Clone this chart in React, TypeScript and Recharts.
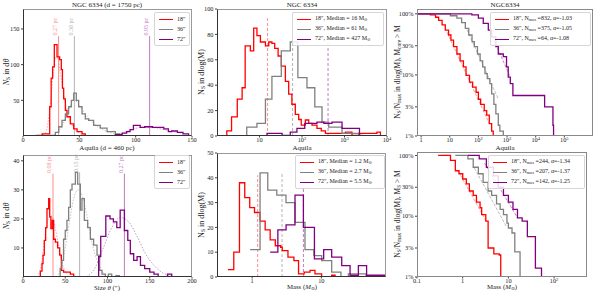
import React from 'react';
import { ComposedChart, Line, XAxis, YAxis, ReferenceLine } from 'recharts';

const FONT = '"Liberation Serif", "DejaVu Serif", serif';
const RED = '#ff0000';
const GRAY = '#808080';
const PURPLE = '#800080';
const RED_L = '#ff8c8c';
const GRAY_L = '#b4b4b4';
const PURPLE_L = '#c27ac2';

// ---- NGC 6334 size histograms (arcsec) : [bin start, count]
const ngcSize18 = [[10, 0], [12, 1], [17, 3], [23.7, 41], [25, 81], [26.3, 97], [27.8, 128], [30.2, 111], [32.5, 107], [34, 93], [35, 67], [36.1, 52], [37.6, 36], [39, 27], [42, 17], [45, 10], [48, 6], [52.4, 3], [55.3, 0]];
const ngcSize36 = [[20, 0], [22, 1], [28.7, 5], [31.7, 13], [34.6, 22], [37.6, 31], [40.5, 41], [42.9, 50], [45, 60], [47.3, 50], [49.4, 41], [52.4, 31], [55.3, 24], [58.3, 22], [62.7, 15], [68.6, 11], [74.6, 6], [82, 3], [86, 0]];
const ngcSize72 = [[76, 0], [82, 2], [88, 4], [92, 6], [95, 9], [98, 15], [104, 12], [108, 13], [115, 12], [121, 12], [125, 10], [129, 6], [132, 7], [137, 5], [142, 3], [147, 0]];
const ngcSizeFit18 = [[15, 0], [20, 5], [24, 40], [27, 90], [29, 110], [31, 108], [33, 90], [36, 60], [40, 30], [45, 12], [50, 4], [55, 1]];
const ngcSizeFit36 = [[28, 2], [35, 15], [40, 35], [45, 50], [48, 48], [52, 38], [58, 25], [65, 15], [75, 6], [85, 2]];
const ngcSizeFit72 = [[85, 2], [95, 8], [105, 12], [115, 12], [125, 9], [140, 4]];
const ngcSizeMedians = [31.6, 45.6, 112.4];
const ngcSizeMedianTops = [140, 140, 140];
const ngcSizeMedianLabels = ['0.27 pc', '0.38 pc', '0.95 pc'];

// ---- NGC 6334 mass histograms (Msun)
const ngcMass18 = [[1.2, 0], [1.7, 4], [2.2, 15], [3, 29], [3.9, 38], [4.6, 71], [6.1, 67], [7.3, 85], [8.7, 79], [10.5, 74], [13.8, 71], [16.5, 74], [19.6, 73], [22.8, 69], [27.4, 63], [32.6, 55], [40.6, 43], [48.6, 33], [57.8, 25], [69.6, 17], [83.6, 13], [96, 8.5], [120, 12.6], [144, 10], [172, 8.5], [225, 6], [284, 4], [356, 2], [1050, 3], [1500, 0.5], [2150, 2], [4400, 2], [5800, 3], [7000, 0]];
const ngcMass36 = [[5, 0], [5.01, 7], [8.7, 10], [13.8, 29], [19.6, 47], [32.6, 67], [53, 74], [80, 46], [131, 38], [200, 23], [296, 11], [425, 7], [875, 2], [1500, 2], [2150, 0.5], [2600, 0]];
const ngcMass72 = [[15, 0], [15.01, 2], [34, 0.5], [53, 3], [76, 6], [116, 10], [225, 11], [327, 10], [506, 11], [875, 6], [2250, 0.5], [2300, 0]];
const ngcMassMedians = [15.5, 60, 410];
const ngcMassMedianTops = [93, 93, 73];

// ---- NGC 6334 cumulative mass fraction
const ngcCum18 = [[0.7, 1], [1.6, 1], [2.1, 0.96], [3.2, 0.88], [4.1, 0.78], [5.4, 0.66], [7, 0.54], [9.1, 0.45], [11, 0.37], [13.6, 0.29], [17.8, 0.22], [23, 0.17], [30, 0.135], [37, 0.098], [49, 0.076], [63, 0.063], [83, 0.052], [100, 0.04], [120, 0.033], [160, 0.026], [195, 0.022], [240, 0.016], [290, 0.012], [330, 0.01]];
const ngcCum36 = [[0.7, 1], [4.6, 1], [10.5, 0.93], [17.8, 0.85], [26, 0.72], [35, 0.58], [46, 0.45], [60, 0.35], [72, 0.29], [93, 0.22], [115, 0.17], [141, 0.135], [170, 0.105], [204, 0.087], [251, 0.072], [290, 0.049], [347, 0.033], [407, 0.023], [495, 0.015], [560, 0.012], [740, 0.01]];
const ngcCum72 = [[0.7, 1], [40, 1], [59, 0.96], [100, 0.85], [148, 0.7], [222, 0.54], [290, 0.42], [407, 0.29], [495, 0.22], [740, 0.2], [960, 0.135], [1100, 0.092], [1300, 0.072], [1600, 0.046], [17800, 0.046], [20500, 0.03], [40000, 0.015], [42000, 0.01]];
const ngcCumFit18 = [[8, 0.5], [240, 0.016]];
const ngcCumFit36 = [[40, 0.55], [500, 0.04]];
const ngcCumFit72 = [[260, 0.51], [1300, 0.092]];

// ---- Aquila size histograms (arcsec)
const aqSize18 = [[18, 0], [20.5, 2], [22.5, 4.6], [23.7, 7.5], [25.2, 12.6], [26.8, 17], [28.4, 23.5], [30.4, 27], [31.6, 20.7], [33, 16.7], [34.7, 19.5], [36.3, 13], [38.3, 12], [41, 10], [43.4, 7.5], [45.4, 2.3], [48, 1.7], [56, 1], [60, 0]];
const aqSize36 = [[42, 0], [44, 3], [46, 5.7], [48, 13], [50, 16], [52, 19.5], [54, 24], [56, 30], [58, 32], [62, 36], [64.7, 32], [67.9, 23], [69.8, 27], [72.6, 19.5], [76.5, 17], [79.7, 13], [83.6, 11], [87.6, 7.5], [90.7, 2.3], [93.5, 1], [97.4, 0], [101, 1], [105, 0], [110, 0.5], [114, 0]];
const aqSize72 = [[88, 0], [89.5, 7], [92, 14], [98, 21], [103, 20], [107, 19], [111, 17], [115, 23], [120, 16], [124, 12.6], [127, 8], [131, 5.7], [135, 7], [139, 4], [144, 2.9], [150, 1.7], [155, 1], [160, 0], [171, 1], [176, 0]];
const aqSizeFit18 = [[18, 0], [22, 5], [26, 14], [30, 20], [34, 21], [38, 17], [42, 11], [46, 5], [50, 2], [55, 0]];
const aqSizeFit36 = [[40, 0], [45, 3], [50, 10], [55, 19], [60, 27], [65, 30], [70, 28], [75, 22], [80, 14], [85, 8], [90, 4], [95, 1.5], [100, 0.5]];
const aqSizeFit72 = [[75, 0], [85, 3], [95, 10], [105, 17], [115, 20.5], [125, 19], [135, 14], [145, 8], [155, 4], [165, 1.5], [175, 0.5]];
const aqSizeMedians = [35.5, 67, 120];
const aqSizeMedianTops = [35.6, 36, 35.6];
const aqSizeMedianLabels = ['0.08 pc', '0.15 pc', '0.27 pc'];

// ---- Aquila mass histograms
const aqMass18 = [[0.445, 3], [0.542, 10], [0.655, 38], [0.781, 32], [0.922, 28], [1.08, 26], [1.3, 22.5], [1.54, 19], [1.82, 15], [2.16, 12.6], [2.58, 12], [2.72, 10.6], [3.29, 8], [4.01, 6.6], [4.68, 1.3], [5.65, 2], [6.86, 2.7], [8.09, 1.3], [10.1, 0], [14.1, 0.7], [15.8, 0]];
const aqMass36 = [[0.935, 11], [1.3, 42], [1.68, 35], [2.27, 33], [3.08, 30], [4.16, 22], [5.8, 11], [7.78, 8.6], [10.1, 6.6], [14.1, 2], [19.2, 0], [24.6, 1.3], [42.4, 1.3], [44.2, 0]];
const aqMass72 = [[1.82, 10], [2.35, 19], [3.09, 21], [4.16, 33], [5.5, 20], [7.94, 7.3], [10.8, 11], [14.1, 8], [19.7, 4.6], [26, 0.7], [34.3, 4.6], [45.1, 0.7], [86, 0.7]];
const aqMassMedians = [1.2, 2.7, 5.5];
const aqMassMedianTops = [41, 41.5, 36];

// ---- Aquila cumulative mass fraction
const aqCum18 = [[0.29, 1], [0.54, 0.83], [0.69, 0.56], [0.83, 0.5], [1.0, 0.41], [1.2, 0.34], [1.4, 0.26], [1.7, 0.22], [2.0, 0.17], [2.4, 0.138], [2.6, 0.106], [3.2, 0.083], [3.6, 0.03], [4.8, 0.024], [6.3, 0.023], [6.8, 0.01]];
const aqCum36 = [[0.69, 1], [1.3, 0.88], [1.7, 0.64], [2.2, 0.5], [2.8, 0.36], [3.6, 0.26], [4.3, 0.22], [5.5, 0.16], [6.6, 0.13], [7.8, 0.106], [9.3, 0.077], [10, 0.064], [12, 0.053], [13.8, 0.026], [18, 0.01]];
const aqCum72 = [[1.3, 1], [2.3, 0.88], [3.3, 0.64], [4.7, 0.46], [6, 0.3], [7.8, 0.22], [10, 0.17], [12.6, 0.13], [15.8, 0.094], [20, 0.083], [26, 0.046], [39, 0.014], [53, 0.01]];
const aqCumFit18 = [[0.8, 0.55], [3.3, 0.082]];
const aqCumFit36 = [[1.8, 0.62], [9, 0.068]];
const aqCumFit72 = [[3, 0.75], [16, 0.093]];

const COLORS = [RED, GRAY, PURPLE];
const LIGHT = [RED_L, GRAY_L, PURPLE_L];

const toPts = (arr: number[][]) => arr.map(([x, y]) => ({ x, y }));

type Series = { pts: number[][]; color: string; kind: 'step' | 'curve' | 'line'; dash?: string; width?: number };
type Median = { x: number; top: number; color: string; label?: string; dash?: string };

const Y_W = 24;
const X_H = 14;
const R_M = 10;
const T_M = 6;

function PowTick(props: any) {
  const { x, y, payload } = props;
  const v = payload.value as number;
  const e = Math.round(Math.log10(v));
  const common: any = { x, y: y + 4.5, textAnchor: 'middle', fontSize: 6.3, fill: '#222', fontFamily: FONT };
  if (e === -1) return <text {...common}>0.1</text>;
  if (e === 0) return <text {...common}>1</text>;
  if (e === 1) return <text {...common}>10</text>;
  return (
    <text {...common}>
      10<tspan dy={-2.5} fontSize={4.5}>{e}</tspan>
    </text>
  );
}

const medianLabel = (text: string, color: string) => (props: any) => {
  const vb = props.viewBox || {};
  const x = (vb.x ?? 0) - 1.5;
  const y = (vb.y ?? 0) - 0.5;
  return (
    <text x={x} y={y} transform={`rotate(-90 ${x} ${y})`} fontSize={6} fill={color} fontFamily={FONT}>
      {text}
    </text>
  );
};

function Panel(p: {
  left: number; top: number; w: number; h: number;
  xDomain: [number, number]; yDomain: [number, number];
  xLog?: boolean; yLog?: boolean;
  xTicks: number[]; yTicks: number[];
  yPct?: boolean;
  series: Series[]; medians: Median[];
  frame?: string;
}) {
  const tickStyle = { fontSize: 6.3, fill: '#222', fontFamily: FONT };
  return (
    <>
      <div style={{ position: 'absolute', left: p.left - Y_W, top: p.top - T_M }}>
        <ComposedChart width={p.w + Y_W + R_M} height={p.h + X_H + T_M} margin={{ top: T_M, right: R_M, bottom: 0, left: 0 }}>
          <XAxis
            dataKey="x"
            type="number"
            scale={p.xLog ? 'log' : 'linear'}
            domain={p.xDomain}
            allowDataOverflow
            ticks={p.xTicks}
            interval={0}
            height={X_H}
            axisLine={false}
            tickSize={1.5}
            tickMargin={0}
            tickLine={{ stroke: '#444' }}
            tick={p.xLog ? <PowTick /> : tickStyle}
          />
          <YAxis
            type="number"
            scale={p.yLog ? 'log' : 'linear'}
            domain={p.yDomain}
            allowDataOverflow
            ticks={p.yTicks}
            interval={0}
            width={Y_W}
            axisLine={false}
            tickSize={2}
            tickMargin={1.5}
            tickLine={{ stroke: '#444' }}
            tick={tickStyle}
            tickFormatter={(v: number) => (p.yPct ? `${Math.round(v * 100)}%` : `${v}`)}
          />
          {p.medians.map((m, i) => (
            <ReferenceLine
              key={'m' + i}
              segment={[{ x: m.x, y: p.yLog ? p.yDomain[0] : 0 }, { x: m.x, y: m.top }]}
              stroke={m.color}
              strokeWidth={1}
              strokeDasharray={m.dash}
              ifOverflow="visible"
              label={m.label ? medianLabel(m.label, m.color) : undefined}
            />
          ))}
          {p.series.map((s, i) => (
            <Line
              key={'s' + i}
              data={toPts(s.pts)}
              dataKey="y"
              type={s.kind === 'step' ? 'stepAfter' : s.kind === 'curve' ? 'monotone' : 'linear'}
              stroke={s.color}
              strokeWidth={s.width ?? 1.3}
              strokeDasharray={s.dash}
              dot={false}
              activeDot={false}
              isAnimationActive={false}
            />
          ))}
        </ComposedChart>
      </div>
      <div
        style={{
          position: 'absolute', left: p.left, top: p.top, width: p.w, height: p.h, boxSizing: 'border-box',
          borderTop: `1px solid ${p.frame ?? '#999'}`, borderRight: `1px solid ${p.frame ?? '#999'}`,
          borderLeft: `1px solid ${p.frame ?? '#333'}`, borderBottom: `1px solid ${p.frame ?? '#333'}`,
          pointerEvents: 'none',
        }}
      />
    </>
  );
}

function Txt({ x, y, size = 7, children }: { x: number; y: number; size?: number; children: React.ReactNode }) {
  return (
    <div style={{ position: 'absolute', left: x, top: y, transform: 'translate(-50%, -50%)', fontSize: size, lineHeight: 1, whiteSpace: 'nowrap', color: '#222', fontFamily: FONT }}>
      {children}
    </div>
  );
}

function VTxt({ x, y, size = 8, children }: { x: number; y: number; size?: number; children: React.ReactNode }) {
  return (
    <div style={{ position: 'absolute', left: x, top: y, transform: 'translate(-50%, -50%) rotate(-90deg)', fontSize: size, lineHeight: 1, whiteSpace: 'nowrap', color: '#222', fontFamily: FONT }}>
      {children}
    </div>
  );
}

const Sub = ({ children }: { children: React.ReactNode }) => (
  <span style={{ fontSize: '0.7em', verticalAlign: '-0.25em' }}>{children}</span>
);

function LegendBox({ left, top, width, items }: { left: number; top: number; width: number; items: { color: string; label: React.ReactNode }[] }) {
  return (
    <div style={{ position: 'absolute', left, top, width, boxSizing: 'border-box', border: '1px solid #d6d6d6', borderRadius: 2, background: 'rgba(255,255,255,0.85)', padding: '1px 2px', fontFamily: FONT, fontSize: 6, color: '#222' }}>
      {items.map((it, i) => (
        <div key={i} style={{ display: 'flex', alignItems: 'center', height: 10 }}>
          <span style={{ display: 'inline-block', width: 14, borderTop: `1.5px solid ${it.color}`, marginLeft: 2, marginRight: 4 }} />
          <span style={{ whiteSpace: 'nowrap' }}>{it.label}</span>
        </div>
      ))}
    </div>
  );
}

const mk = (arrs: number[][][], kind: Series['kind'], light: boolean, dash?: string, width?: number): Series[] =>
  arrs.map((pts, i) => ({ pts, color: light ? LIGHT[i] : COLORS[i], kind, dash, width }));

const mkMed = (xs: number[], tops: number[], labels?: string[], dash?: string): Median[] =>
  xs.map((x, i) => ({ x, top: tops[i], color: LIGHT[i], label: labels ? labels[i] : undefined, dash }));

const ANG = '\u2033';

export default function App() {
  const top = 9, topH = 127;
  return (
    <div style={{ position: 'absolute', left: 0, top: 0, width: 598, height: 291, background: '#fff', overflow: 'hidden', fontFamily: FONT }}>
      {/* Top-left: NGC 6334 sizes */}
      <Panel
        left={23} top={top} w={169} h={topH}
        xDomain={[0, 150]} yDomain={[0, 178]}
        xTicks={[0, 50, 100, 150]} yTicks={[50, 100, 150]}
        series={[...mk([ngcSizeFit18, ngcSizeFit36, ngcSizeFit72], 'curve', true, '1.5 1.5', 0.8), ...mk([ngcSize18, ngcSize36, ngcSize72], 'step', false)]}
        medians={mkMed(ngcSizeMedians, ngcSizeMedianTops, ngcSizeMedianLabels)}
      />
      {/* Top-middle: NGC 6334 mass */}
      <Panel
        left={217} top={top} w={170} h={topH}
        xDomain={[1, 10000]} yDomain={[0, 100]} xLog
        xTicks={[10, 100, 1000, 10000]} yTicks={[0, 20, 40, 60, 80, 100]}
        series={mk([ngcMass18, ngcMass36, ngcMass72], 'step', false)}
        medians={mkMed(ngcMassMedians, ngcMassMedianTops, undefined, '3 2')}
      />
      {/* Top-right: NGC 6334 cumulative */}
      <Panel
        left={417} top={top} w={176} h={topH}
        xDomain={[0.72, 1000000]} yDomain={[0.01, 1.2]} xLog yLog yPct
        xTicks={[1, 10, 100, 1000, 10000, 100000]} yTicks={[0.01, 0.03, 0.1, 0.3, 1]}
        series={[...mk([ngcCumFit18, ngcCumFit36, ngcCumFit72], 'line', true, '3 1.5', 0.9), ...mk([ngcCum18, ngcCum36, ngcCum72], 'step', false)]}
        medians={[]}
        frame="#888"
      />
      {/* Bottom-left: Aquila sizes */}
      <Panel
        left={23} top={155} w={169} h={122}
        xDomain={[0, 200]} yDomain={[0, 42]}
        xTicks={[0, 50, 100, 150, 200]} yTicks={[10, 20, 30, 40]}
        series={[...mk([aqSizeFit18, aqSizeFit36, aqSizeFit72], 'curve', true, '1.5 1.5', 0.8), ...mk([aqSize18, aqSize36, aqSize72], 'step', false)]}
        medians={mkMed(aqSizeMedians, aqSizeMedianTops, aqSizeMedianLabels)}
      />
      {/* Bottom-middle: Aquila mass */}
      <Panel
        left={217} top={153} w={169} h={124}
        xDomain={[0.31, 86]} yDomain={[0, 50]} xLog
        xTicks={[1, 10]} yTicks={[0, 10, 20, 30, 40, 50]}
        series={mk([aqMass18, aqMass36, aqMass72], 'step', false)}
        medians={mkMed(aqMassMedians, aqMassMedianTops, undefined, '3 2')}
      />
      {/* Bottom-right: Aquila cumulative */}
      <Panel
        left={417} top={152} w={170} h={125}
        xDomain={[0.1, 525]} yDomain={[0.01, 1.14]} xLog yLog yPct
        xTicks={[0.1, 1, 10, 100]} yTicks={[0.01, 0.03, 0.1, 0.3, 1]}
        series={[...mk([aqCumFit18, aqCumFit36, aqCumFit72], 'line', true, '3 1.5', 0.9), ...mk([aqCum18, aqCum36, aqCum72], 'step', false)]}
        medians={[]}
        frame="#888"
      />

      {/* titles */}
      <Txt x={107} y={4.5}>NGC 6334 (d = 1750 pc)</Txt>
      <Txt x={302} y={4.5}>NGC 6334</Txt>
      <Txt x={505} y={4.5}>NGC6334</Txt>
      <Txt x={107} y={147.5}>Aquila (d = 460 pc)</Txt>
      <Txt x={302} y={147.5}>Aquila</Txt>
      <Txt x={505} y={147.5}>Aquila</Txt>

      {/* x labels */}
      <Txt x={107} y={287.6} size={6.8}>Size <i>θ</i> (″)</Txt>
      <Txt x={302} y={287.6} size={6.8}>Mass (<i>M</i><Sub>⊙</Sub>)</Txt>
      <Txt x={502} y={287.6} size={6.8}>Mass (<i>M</i><Sub>⊙</Sub>)</Txt>

      {/* y labels */}
      <VTxt x={7} y={72}><i>N</i><Sub>S</Sub> in d<i>θ</i></VTxt>
      <VTxt x={7} y={216}><i>N</i><Sub>S</Sub> in d<i>θ</i></VTxt>
      <VTxt x={202} y={72}>N<Sub>S</Sub> in dlog(M)</VTxt>
      <VTxt x={202} y={215}>N<Sub>S</Sub> in dlog(M)</VTxt>
      <VTxt x={398} y={72} size={7.5}>N<Sub>S</Sub>/N<Sub>max</Sub> in dlog(M), M<Sub>core</Sub> &gt; M</VTxt>
      <VTxt x={398} y={214} size={7.5}>N<Sub>S</Sub>/N<Sub>max</Sub> in dlog(M), M<Sub>S</Sub> &gt; M</VTxt>

      {/* legends */}
      <LegendBox left={154} top={12} width={36} items={[
        { color: RED, label: `18${ANG}` }, { color: GRAY, label: `36${ANG}` }, { color: PURPLE, label: `72${ANG}` },
      ]} />
      <LegendBox left={292} top={12} width={92} items={[
        { color: RED, label: <>18{ANG}, Median = 16 M<Sub>⊙</Sub></> },
        { color: GRAY, label: <>36{ANG}, Median = 61 M<Sub>⊙</Sub></> },
        { color: PURPLE, label: <>72{ANG}, Median = 427 M<Sub>⊙</Sub></> },
      ]} />
      <LegendBox left={490} top={12} width={101} items={[
        { color: RED, label: <>18{ANG}, N<Sub>max</Sub> =832, α=-1.03</> },
        { color: GRAY, label: <>36{ANG}, N<Sub>max</Sub> =375, α=-1.05</> },
        { color: PURPLE, label: <>72{ANG}, N<Sub>max</Sub> =64, α=-1.08</> },
      ]} />
      <LegendBox left={154} top={155} width={36} items={[
        { color: RED, label: `18${ANG}` }, { color: GRAY, label: `36${ANG}` }, { color: PURPLE, label: `72${ANG}` },
      ]} />
      <LegendBox left={295} top={155} width={90} items={[
        { color: RED, label: <>18{ANG}, Median = 1.2 M<Sub>⊙</Sub></> },
        { color: GRAY, label: <>36{ANG}, Median = 2.7 M<Sub>⊙</Sub></> },
        { color: PURPLE, label: <>72{ANG}, Median = 5.5 M<Sub>⊙</Sub></> },
      ]} />
      <LegendBox left={488} top={155} width={97} items={[
        { color: RED, label: <>18{ANG}, N<Sub>max</Sub> =244, α=-1.34</> },
        { color: GRAY, label: <>36{ANG}, N<Sub>max</Sub> =207, α=-1.37</> },
        { color: PURPLE, label: <>72{ANG}, N<Sub>max</Sub> =142, α=-1.25</> },
      ]} />
    </div>
  );
}
